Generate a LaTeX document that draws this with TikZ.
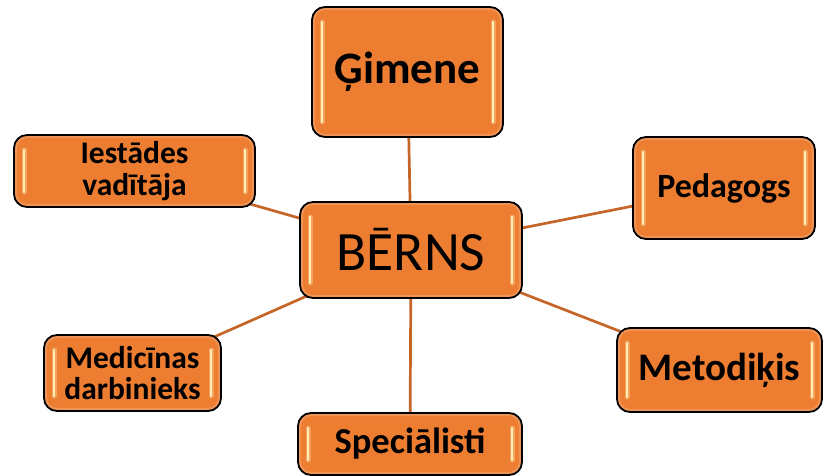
\documentclass[tikz,border=0pt]{standalone}
\usepackage{fontspec}
\setmainfont{Carlito}
\usetikzlibrary{calc,backgrounds}
\definecolor{boxorange}{RGB}{237,125,49}
\definecolor{linkc}{RGB}{197,101,40}
\definecolor{glow}{RGB}{255,238,180}
\tikzset{
  box/.style={draw=black, line width=1.8pt, fill=boxorange, rounded corners=13pt,
    align=center, inner sep=0pt, font=\bfseries, text=black,
    path picture={
      \draw[boxorange!60!white, line width=6pt, opacity=0.45, rounded corners=13pt]
        (path picture bounding box.north west) rectangle (path picture bounding box.south east);
      \draw[glow!60!boxorange, line width=5pt, line cap=round, opacity=0.6]
        ($(path picture bounding box.north west)+(10,15)$) -- ($(path picture bounding box.south west)+(10,-15)$);
      \draw[glow!60!boxorange, line width=5pt, line cap=round, opacity=0.6]
        ($(path picture bounding box.north east)+(-10,15)$) -- ($(path picture bounding box.south east)+(-10,-15)$);
      \draw[glow, line width=2.2pt, line cap=round]
        ($(path picture bounding box.north west)+(10,15)$) -- ($(path picture bounding box.south west)+(10,-15)$);
      \draw[glow, line width=2.2pt, line cap=round]
        ($(path picture bounding box.north east)+(-10,15)$) -- ($(path picture bounding box.south east)+(-10,-15)$);
    }},
  link/.style={draw=linkc, line width=2.7pt}
}
\begin{document}
\begin{tikzpicture}[x=1pt,y=-1pt]
\useasboundingbox (0,0) rectangle (825,476);
\node[box, minimum width=191pt, minimum height=130pt, font=\bfseries\fontsize{45}{48}\selectfont] (gim) at (407.5,72) {Ģimene};
\node[box, minimum width=222pt, minimum height=96pt, font=\fontsize{55.5}{58}\selectfont] (berns) at (411,250) {BĒRNS};
\node[box, minimum width=241pt, minimum height=72pt, font=\bfseries\fontsize{31.5}{32.5}\selectfont] (iest) at (134.5,171) {Iestādes\\vadītāja};
\node[box, minimum width=182pt, minimum height=102pt, font=\bfseries\fontsize{34}{38}\selectfont] (ped) at (724,188) {Pedagogs};
\node[box, minimum width=177pt, minimum height=76pt, font=\bfseries\fontsize{31.5}{31}\selectfont] (med) at (132.5,373) {Medicīnas\\darbinieks};
\node[box, minimum width=224pt, minimum height=62pt, font=\bfseries\fontsize{36.5}{40}\selectfont] (spec) at (410,444) {Speciālisti};
\node[box, minimum width=205pt, minimum height=84pt, font=\bfseries\fontsize{39}{42}\selectfont] (met) at (719.5,370) {Metodiķis};
\begin{scope}[on background layer]
\draw[link] (berns.center) -- (gim.center);
\draw[link] (berns.center) -- (iest.center);
\draw[link] (berns.center) -- (ped.center);
\draw[link] (berns.center) -- (med.center);
\draw[link] (berns.center) -- (spec.center);
\draw[link] (berns.center) -- (met.center);
\end{scope}
\end{tikzpicture}
\end{document}
